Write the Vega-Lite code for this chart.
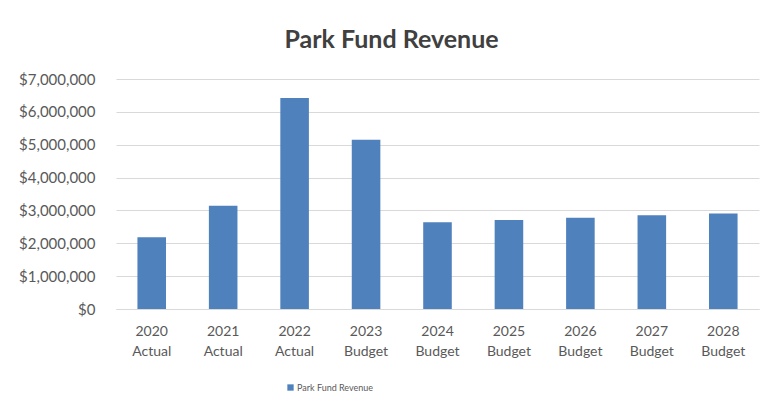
{
  "$schema": "https://vega.github.io/schema/vega-lite/v6.json",
  "width": 643,
  "height": 230,
  "autosize": {"type": "none"},
  "padding": {"left": 116, "top": 79, "right": 23, "bottom": 105},
  "background": "white",
  "title": {
    "text": "Park Fund Revenue",
    "font": "Lato",
    "fontSize": 25,
    "fontWeight": "bold",
    "color": "#404040",
    "anchor": "middle",
    "dx": -46,
    "offset": 19
  },
  "data": {
    "values": [
      {"period": "2020 Actual", "series": "Park Fund Revenue", "revenue": 2180000},
      {"period": "2021 Actual", "series": "Park Fund Revenue", "revenue": 3140000},
      {"period": "2022 Actual", "series": "Park Fund Revenue", "revenue": 6420000},
      {"period": "2023 Budget", "series": "Park Fund Revenue", "revenue": 5150000},
      {"period": "2024 Budget", "series": "Park Fund Revenue", "revenue": 2640000},
      {"period": "2025 Budget", "series": "Park Fund Revenue", "revenue": 2710000},
      {"period": "2026 Budget", "series": "Park Fund Revenue", "revenue": 2780000},
      {"period": "2027 Budget", "series": "Park Fund Revenue", "revenue": 2850000},
      {"period": "2028 Budget", "series": "Park Fund Revenue", "revenue": 2910000}
    ]
  },
  "mark": {"type": "bar"},
  "encoding": {
    "x": {
      "field": "period",
      "type": "nominal",
      "sort": null,
      "scale": {"paddingInner": 0.6, "paddingOuter": 0.3},
      "axis": {
        "title": null,
        "labelAngle": 0,
        "labelExpr": "split(datum.label, ' ')",
        "labelFont": "Lato",
        "labelFontSize": 14,
        "labelLineHeight": 20,
        "labelColor": "#595959",
        "labelPadding": 15,
        "ticks": false,
        "domainColor": "#d9d9d9",
        "domainWidth": 1,
        "grid": false
      }
    },
    "y": {
      "field": "revenue",
      "type": "quantitative",
      "scale": {"domain": [0, 7000000], "nice": false},
      "axis": {
        "title": null,
        "values": [0, 1000000, 2000000, 3000000, 4000000, 5000000, 6000000, 7000000],
        "format": "$,.0f",
        "labelFont": "Lato",
        "labelFontSize": 15,
        "labelColor": "#595959",
        "labelPadding": 21,
        "ticks": false,
        "domain": false,
        "grid": true,
        "gridColor": "#d9d9d9",
        "gridWidth": 1
      }
    },
    "color": {
      "field": "series",
      "type": "nominal",
      "scale": {"range": ["#4f81bd"]},
      "legend": {
        "title": null,
        "orient": "none",
        "legendX": 170,
        "legendY": 304,
        "direction": "horizontal",
        "symbolType": "square",
        "symbolSize": 40,
        "symbolStrokeWidth": 0,
        "labelFont": "Lato",
        "labelFontSize": 9,
        "labelColor": "#595959",
        "labelOffset": 2
      }
    }
  },
  "config": {"view": {"stroke": null}}
}
